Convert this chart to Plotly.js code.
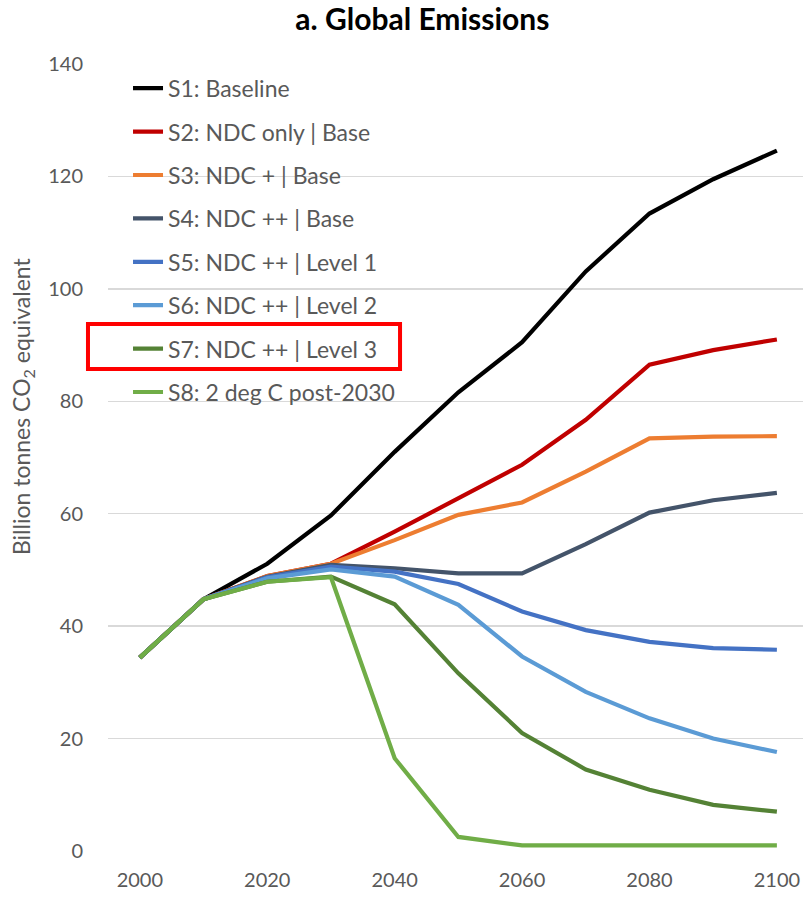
<!DOCTYPE html>
<html>
<head>
<meta charset="utf-8">
<script src="https://cdn.plot.ly/plotly-3.0.1.min.js"></script>
<style>html,body{margin:0;padding:0;overflow:hidden;background:#fff;}</style>
</head>
<body>
<div id="chart" style="width:803px;height:899px;"></div>
<script>
const years = [2000, 2010, 2020, 2030, 2040, 2050, 2060, 2070, 2080, 2090, 2100];

const s1Baseline   = [34.4, 44.8, 51.1, 59.7, 71.0, 81.6, 90.5, 103.1, 113.4, 119.5, 124.6];
const s2NdcOnly    = [34.4, 44.8, 48.9, 51.1, 56.8, 62.7, 68.7, 76.7, 86.5, 89.1, 91.0];
const s3NdcPlus    = [34.4, 44.8, 48.9, 51.1, 55.3, 59.8, 62.0, 67.5, 73.4, 73.7, 73.8];
const s4NdcPP      = [34.4, 44.8, 48.8, 50.9, 50.3, 49.4, 49.4, 54.6, 60.2, 62.4, 63.7];
const s5Level1     = [34.4, 44.8, 48.7, 50.6, 49.7, 47.5, 42.6, 39.3, 37.2, 36.1, 35.8];
const s6Level2     = [34.4, 44.8, 48.5, 50.1, 48.8, 43.8, 34.6, 28.3, 23.6, 20.0, 17.6];
const s7Level3     = [34.4, 44.8, 47.9, 48.8, 43.9, 31.6, 21.0, 14.5, 10.9, 8.2, 7.0];
const s8TwoDeg     = [34.4, 44.8, 47.9, 48.7, 16.5, 2.5, 1.0, 1.0, 1.0, 1.0, 1.0];

const seriesNames = [
  "S1: Baseline",
  "S2: NDC only | Base",
  "S3: NDC + | Base",
  "S4: NDC ++ | Base",
  "S5: NDC ++ | Level 1",
  "S6: NDC ++ | Level 2",
  "S7: NDC ++ | Level 3",
  "S8: 2 deg C post-2030"
];
const seriesValues = [s1Baseline, s2NdcOnly, s3NdcPlus, s4NdcPP, s5Level1, s6Level2, s7Level3, s8TwoDeg];
const seriesColors = ["#000000", "#C00000", "#ED7D31", "#44546A", "#4472C4", "#5B9BD5", "#548235", "#70AD47"];

const yTicks = [0, 20, 40, 60, 80, 100, 120, 140];
const xTicks = [2000, 2020, 2040, 2060, 2080, 2100];

const FONT = "Lato, 'Open Sans', sans-serif";

const traces = seriesNames.map((name, i) => ({
  type: "scatter",
  mode: "lines",
  name: name,
  x: years,
  y: seriesValues[i],
  legendgroup: "g" + i,
  line: {color: seriesColors[i], width: 4.2, shape: "linear"},
  hoverinfo: "skip"
}));

const layout = {
  width: 803,
  height: 899,
  autosize: false,
  margin: {l: 108, r: 0, t: 64, b: 48, pad: 0},
  paper_bgcolor: "#ffffff",
  plot_bgcolor: "#ffffff",
  font: {family: FONT, color: "#595959", size: 20},
  title: {
    text: "<b>a. Global Emissions</b>",
    font: {family: FONT, size: 30, color: "#000000"},
    x: 0.526, xref: "container", xanchor: "center",
    y: 0.978, yref: "container", yanchor: "middle"
  },
  xaxis: {
    range: [1995, 2104.1],
    tickmode: "array",
    tickvals: xTicks,
    ticktext: xTicks.map(String),
    showgrid: false,
    zeroline: false,
    showline: false,
    ticks: "",
    ticklabelstandoff: 15,
    tickfont: {family: FONT, size: 20, color: "#595959"},
    fixedrange: true
  },
  yaxis: {
    range: [0, 140],
    tickmode: "array",
    tickvals: yTicks,
    ticktext: yTicks.map(String),
    showgrid: true,
    gridcolor: "#D9D9D9",
    gridwidth: 1.5,
    zeroline: false,
    showline: false,
    ticks: "",
    ticklabelstandoff: 24,
    tickfont: {family: FONT, size: 20, color: "#595959"},
    fixedrange: true
  },
  showlegend: true,
  legend: {
    x: 0.0288, xanchor: "left",
    y: 0.9965, yanchor: "top",
    bgcolor: "rgba(255,255,255,0)",
    borderwidth: 0,
    traceorder: "grouped",
    tracegroupgap: 10.5,
    font: {family: FONT, size: 23, color: "#595959"}
  },
  annotations: [{
    text: "Billion tonnes CO<sub>2</sub> equivalent",
    xref: "paper", yref: "paper",
    x: -0.1237, y: 0.5654,
    xanchor: "center", yanchor: "middle",
    textangle: -90,
    showarrow: false,
    font: {family: FONT, size: 23, color: "#595959"}
  }],
  shapes: [{
    type: "rect",
    xref: "paper", yref: "paper",
    x0: -0.0288, x1: 0.4202,
    y0: 0.6125, y1: 0.6696,
    line: {color: "#FF0000", width: 4},
    fillcolor: "rgba(0,0,0,0)"
  }]
};

Plotly.newPlot("chart", traces, layout, {displayModeBar: false, staticPlot: true});
</script>
</body>
</html>
